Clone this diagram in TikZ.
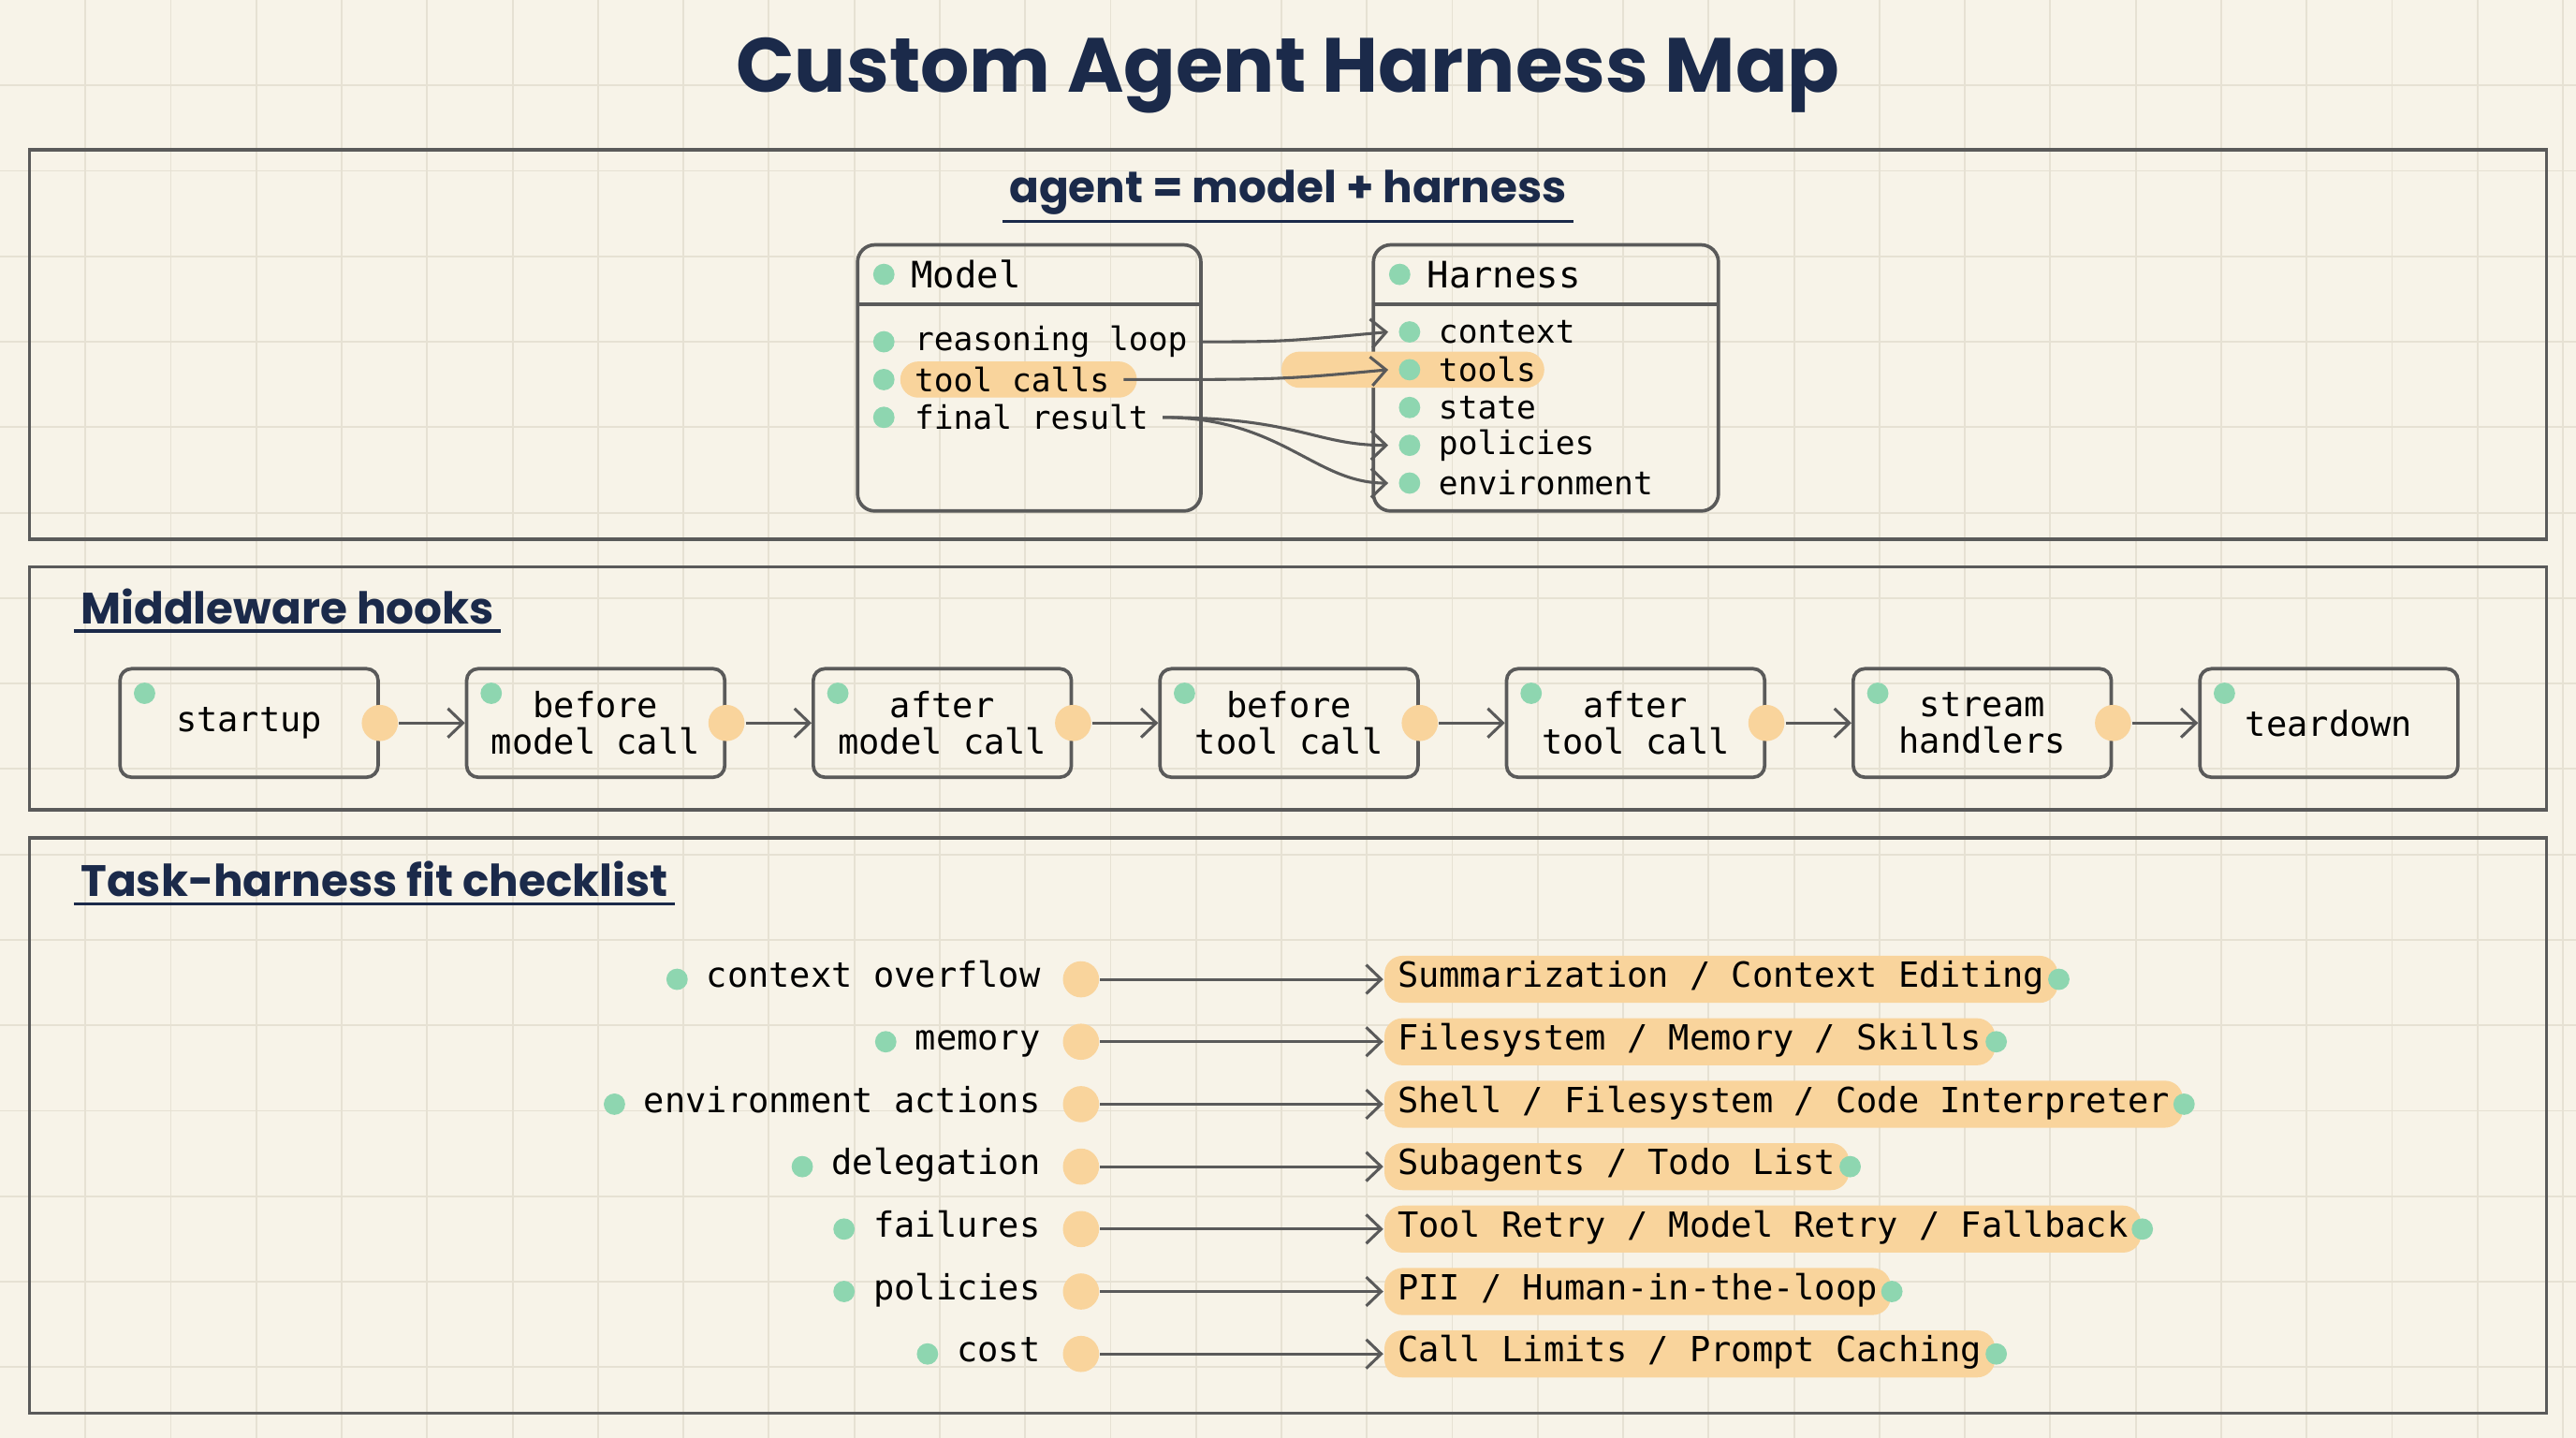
\documentclass[tikz,border=0pt]{standalone}
\usepackage{fontspec}
\setmainfont{Poppins}
\setmonofont{DejaVu Sans Mono}
\usetikzlibrary{arrows.meta,positioning,calc}
\definecolor{paper}{HTML}{F7F3E8}
\definecolor{gridc}{HTML}{E6E1D3}
\definecolor{ink}{HTML}{1B2A4A}
\definecolor{edge}{HTML}{5A5A5A}
\definecolor{mint}{HTML}{8ED6B0}
\definecolor{peach}{HTML}{F9D49C}
\tikzset{
  panel/.style={draw=edge, line width=0.6pt},
  head/.style={font=\fontsize{7.6}{9}\selectfont\bfseries, text=ink, inner sep=1pt},
  mono/.style={font=\ttfamily\fontsize{5.6}{6.4}\selectfont, inner sep=0pt, text=black},
  hook/.style={draw=edge, line width=0.6pt, rounded corners=2pt, minimum width=1.57cm,
    minimum height=0.66cm, align=center, font=\ttfamily\fontsize{6}{6.4}\selectfont},
  gdot/.style={circle, fill=mint, inner sep=0pt, minimum size=0.13cm},
  odot/.style={circle, fill=peach, inner sep=0pt, minimum size=0.22cm},
  link/.style={-{Straight Barb[length=2.6pt,width=5pt]}, draw=edge, line width=0.5pt},
  hl/.style={fill=peach, rounded corners=0.11cm},
}
\begin{document}
\begin{tikzpicture}[x=0.01cm, y=-0.01cm]
\useasboundingbox (0,0) rectangle (1568,875);
\fill[paper] (0,0) rectangle (1568,875);
\foreach \g in {52,104,...,1560} \draw[gridc, line width=0.3pt] (\g,0) -- (\g,875);
\foreach \g in {52,104,...,870} \draw[gridc, line width=0.3pt] (0,\g) -- (1568,\g);

% title and panels
\node[font=\fontsize{13.3}{15}\selectfont\bfseries, text=ink] (title) at (784,46) {Custom Agent Harness Map};
\draw[panel] (18,91) rectangle (1550,328);
\draw[panel] (18,345) rectangle (1550,493);
\draw[panel] (18,510) rectangle (1550,860);

\node[head] (eq) at (784,117) {agent = model + harness};
\draw[ink, line width=0.6pt] (eq.south west) -- (eq.south east);
\node[head, anchor=west] (mw) at (45,369) {Middleware hooks};
\draw[ink, line width=0.6pt] (mw.south west) -- (mw.south east);
\node[head, anchor=west] (fit) at (45,535) {Task-harness fit checklist};
\draw[ink, line width=0.6pt] (fit.south west) -- (fit.south east);

%%%%%%%%%%%%%%%%%%%%%%%%%%%%%%%% model / harness
\draw[panel, rounded corners=3pt] (522,149) rectangle (731,311);
\draw[panel] (522,185) -- (731,185);
\draw[panel, rounded corners=3pt] (836,149) rectangle (1046,311);
\draw[panel] (836,185) -- (1046,185);
\node[gdot] (md) at (538,167) {};
\node[mono, font=\ttfamily\fontsize{6.3}{7}\selectfont, anchor=west] (model) at (554,167) {Model};
\node[gdot] (hd) at (852,167) {};
\node[mono, font=\ttfamily\fontsize{6.3}{7}\selectfont, anchor=west] (harness) at (868,167) {Harness};

\fill[hl] (548,220) rectangle (692,242);
\fill[hl] (780,214) rectangle (940,236);
\foreach \t [count=\i] in {reasoning loop,tool calls,final result}{
  \node[gdot] at (538,185+23*\i) {};
  \node[mono, anchor=west] (m\i) at (556,185+23*\i) {\t};
}
\foreach \t [count=\i] in {context,tools,state,policies,environment}{
  \node[gdot] at (858,179+23*\i) {};
  \node[mono, anchor=west] (h\i) at (875,179+23*\i) {\t};
}
\coordinate (h1in) at (845,202);
\coordinate (h2in) at (845,225);
\coordinate (h4in) at (845,271);
\coordinate (h5in) at (845,294);
\draw[link] ($(m1.east)+(8,0)$) .. controls (780,208) .. (h1in);
\draw[link] ($(m2.east)+(8,0)$) .. controls (780,231) .. (h2in);
\draw[link] ($(m3.east)+(8,0)$) .. controls (790,254) and (800,271) .. (h4in);
\draw[link] ($(m3.east)+(8,0)$) .. controls (780,254) and (800,294) .. (h5in);

%%%%%%%%%%%%%%%%%%%%%%%%%%%%%%%% hooks
\foreach \t [count=\i] in {startup,before\\model call,after\\model call,before\\tool call,after\\tool call,stream\\handlers,teardown}{
  \node[hook, anchor=west] (k\i) at (72+211*\i-211,440) {\t};
  \node[gdot] at ($(k\i.north west)+(16,16)$) {};
}
\foreach \i [evaluate=\i as \j using int(\i+1)] in {1,...,6}{
  \node[odot] (o\i) at (k\i.east) {};
  \draw[link] (o\i) -- (k\j.west);
}

%%%%%%%%%%%%%%%%%%%%%%%%%%%%%%%% checklist
\foreach \a/\b [count=\i] in {{context overflow}/{Summarization / Context Editing},
  {memory}/{Filesystem / Memory / Skills},
  {environment actions}/{Shell / Filesystem / Code Interpreter},
  {delegation}/{Subagents / Todo List},
  {failures}/{Tool Retry / Model Retry / Fallback},
  {policies}/{PII / Human-in-the-loop},
  {cost}/{Call Limits / Prompt Caching}}{
  \node[mono, font=\ttfamily\fontsize{6}{7}\selectfont, anchor=east] (l\i) at (634,558+38*\i) {\strut\a};
  \node[gdot, left=0.1cm of l\i] {};
  \node[odot] (p\i) at (658,558+38*\i) {};
  \node[mono, font=\ttfamily\fontsize{6}{7}\selectfont, anchor=west, fill=peach,
    rounded corners=0.11cm, inner xsep=0.08cm, inner ysep=0.02cm] (r\i) at (842,558+38*\i) {\strut\b};
  \node[gdot] at (r\i.east) {};
  \draw[link] (p\i) -- (r\i.west);
}
\end{tikzpicture}
\end{document}
